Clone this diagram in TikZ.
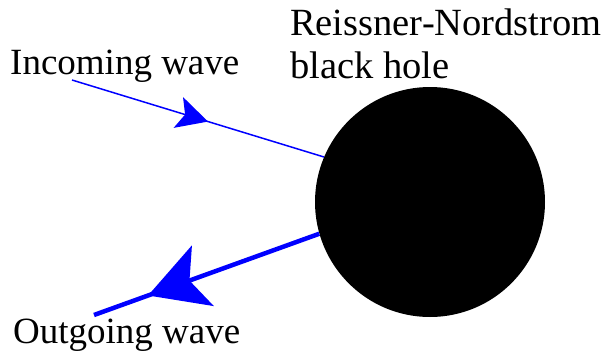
\documentclass[tikz,border=0pt]{standalone}
\usepackage{fontspec}
\setmainfont{Liberation Serif}
\usetikzlibrary{arrows.meta,decorations.markings}
\begin{document}
\begin{tikzpicture}[x=1pt,y=-1pt,
  lbl/.style={anchor=base west,inner sep=0pt,font=\fontsize{37}{44}\selectfont},
  biglbl/.style={lbl,font=\fontsize{38.5}{44}\selectfont},
  inwave/.style={draw=blue,line width=1.5pt,postaction={decorate},
    decoration={markings,mark=at position 0.54 with {\arrow[blue]{Stealth[length=31pt,width=32pt,inset=7pt]}}}},
  outwave/.style={draw=blue,line width=4.5pt,postaction={decorate},
    decoration={markings,mark=at position 0.76 with {\arrow[blue]{Stealth[length=58pt,width=64pt,inset=14pt]}}}}]
\useasboundingbox (0,0) rectangle (606,351);
\node[circle,fill=black,minimum size=230pt,inner sep=0pt] (bh) at (430,202) {};
\coordinate (inS) at (72,80);
\coordinate (outE) at (94,315);
\draw[inwave] (inS) -- (bh.157.7);
\draw[outwave] (bh.196.4) -- (outE);
\node[lbl] (tin) at (10,74) {Incoming wave};
\node[biglbl] (tbh1) at (290,35) {Reissner-Nordstrom};
\node[biglbl] (tbh2) at (290,78) {black hole};
\node[lbl] (tout) at (13,343) {Outgoing wave};
\end{tikzpicture}
\end{document}
